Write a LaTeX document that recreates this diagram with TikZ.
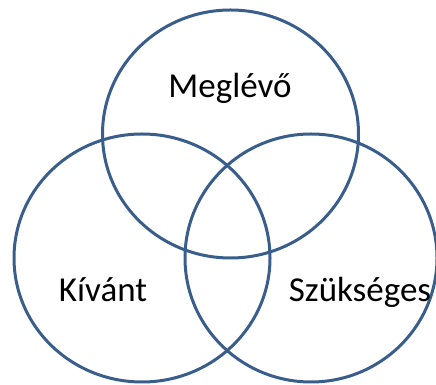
\documentclass[tikz,border=0pt]{standalone}
\usepackage{fontspec}
\setmainfont{Carlito}
\definecolor{VennBlue}{RGB}{58,94,140}
\usetikzlibrary{positioning}

\begin{document}
\begin{tikzpicture}[x=1pt,y=1pt,
  ring/.style={draw=VennBlue,line width=3pt},
  label/.style={font=\fontsize{35}{40}\selectfont,text=black}]
\useasboundingbox (0,0) rectangle (436,385);
\draw[ring] (230.5,251) ellipse[x radius=128,y radius=124];
\draw[ring] (142,127) ellipse[x radius=128,y radius=124];
\draw[ring] (311,127) ellipse[x radius=126,y radius=124];
\node[label] (meglevo) at (230,297) {Meglévő};
\node[label] (kivant) at (103,95) {Kívánt};
\node[label] (szukseges) at (360,93) {Szükséges};
\end{tikzpicture}
\end{document}
